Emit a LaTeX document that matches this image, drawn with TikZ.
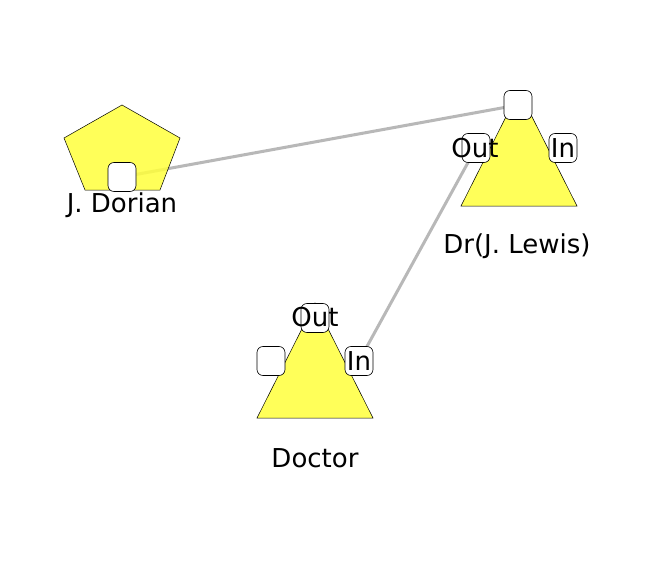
\documentclass[tikz,border=0pt]{standalone}
\usepackage{fontspec}
\setmainfont{DejaVu Sans}
\usetikzlibrary{positioning,backgrounds}
\definecolor{shapefill}{RGB}{255,255,60}
\definecolor{linkgray}{RGB}{184,184,184}

\begin{document}
\begin{tikzpicture}[x=1pt, y=-1pt,
    body/.style={draw, line width=0.5pt, fill=shapefill, fill opacity=0.85},
    port/.style={draw, fill=white, rounded corners=6pt, minimum width=28pt, minimum height=29pt, inner sep=0pt, line width=0.6pt},
    portlbl/.style={inner sep=0pt, font=\fontsize{26}{30}\selectfont},
    lbl/.style={inner sep=0pt, anchor=base, font=\fontsize{26}{30}\selectfont},
    link/.style={draw=linkgray, line width=3pt}
  ]
  \useasboundingbox (0,0) rectangle (657,570);

  % shapes
  \draw[body] (122,105) -- (180,138) -- (160,190) -- (85,190) -- (64,138) -- cycle;
  \draw[body] (519,91) -- (577,206) -- (461,206) -- cycle;
  \draw[body] (315,303) -- (373,418) -- (257,418) -- cycle;

  % ports
  \node[port] (dorianP) at (122,177) {};
  \node[port] (lewisTop) at (518,105) {};
  \node[port] (lewisOut) at (476,148) {};
  \node[port] (lewisIn) at (563,148) {};
  \node[port] (docOut) at (315,318) {};
  \node[port] (docLeft) at (271,361) {};
  \node[port] (docIn) at (359,361) {};

  \node[portlbl] (lewisOutT) at (475,148) {Out};
  \node[portlbl] (lewisInT) at (563,148) {In};
  \node[portlbl] (docOutT) at (315,317) {Out};
  \node[portlbl] (docInT) at (359,361) {In};

  \node[lbl] (dorian) at (122,212) {J. Dorian};
  \node[lbl] (lewis) at (517,253) {Dr(J. Lewis)};
  \node[lbl] (doctor) at (315,467) {Doctor};

  % links, under everything
  \begin{scope}[on background layer]
    \draw[link] (dorianP.center) -- (lewisTop.center);
    \draw[link] (lewisOut.center) -- (docIn.center);
  \end{scope}
\end{tikzpicture}
\end{document}
